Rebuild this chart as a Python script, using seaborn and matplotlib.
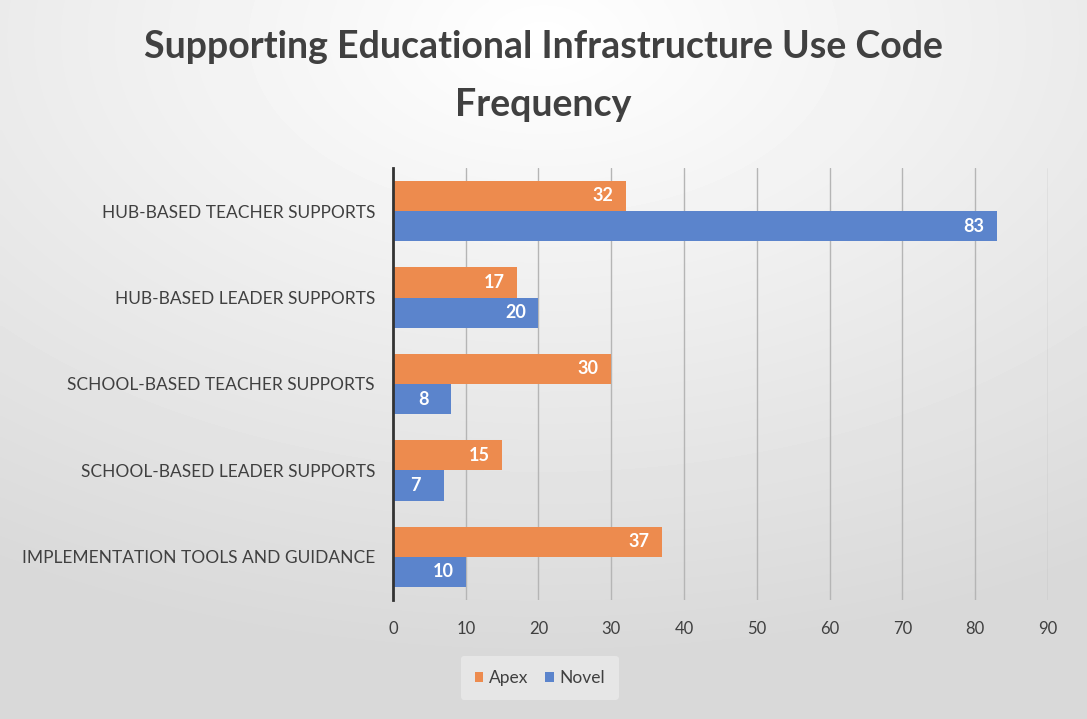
import numpy as np
import pandas as pd
import seaborn as sns
import matplotlib.pyplot as plt

# Code frequency per category
categories = [
    "HUB-BASED TEACHER SUPPORTS",
    "HUB-BASED LEADER SUPPORTS",
    "SCHOOL-BASED TEACHER SUPPORTS",
    "SCHOOL-BASED LEADER SUPPORTS",
    "IMPLEMENTATION TOOLS AND GUIDANCE",
]
apex = [32, 17, 30, 15, 37]
novel = [83, 20, 8, 7, 10]
series = ["Apex", "Novel"]
x_ticks = [0, 10, 20, 30, 40, 50, 60, 70, 80, 90]

df = pd.DataFrame({
    "category": categories * 2,
    "series": ["Apex"] * len(apex) + ["Novel"] * len(novel),
    "count": apex + novel,
})

sns.set_style("white")
plt.rcParams["font.family"] = ["Lato", "DejaVu Sans"]

fig = plt.figure(figsize=(10.87, 7.19), dpi=100)

# gray gradient background, lighter near the top
bg = fig.add_axes([0, 0, 1, 1], zorder=-10)
yy, xx = np.mgrid[0:1:200j, 0:1:300j]
dist = np.sqrt(((xx - 0.5) * 1.0) ** 2 + ((yy - 0.05) * 1.1) ** 2)
shade = 1.0 - 0.15 * np.clip(dist / 0.95, 0, 1)
bg.imshow(shade, cmap="gray", vmin=0, vmax=1, aspect="auto",
          extent=[0, 1, 1, 0], interpolation="bicubic")
bg.set_axis_off()
fig.patch.set_edgecolor("#9a9a9a")
fig.patch.set_linewidth(1.5)

ax = fig.add_axes([0.3615, 0.1655, 0.6025, 0.601])
ax.patch.set_alpha(0)
colors = {"Apex": "#ED8B4E", "Novel": "#5B84CC"}
sns.barplot(data=df, y="category", x="count", hue="series", hue_order=series,
            order=categories, palette=colors, orient="h", width=0.7,
            saturation=1, linewidth=0, ax=ax, legend=True, zorder=3)

for cont in ax.containers:
    ax.bar_label(cont, padding=-24, color="white", fontsize=13,
                 fontweight="bold")

ax.set_xlim(0, 90)
ax.set_xticks(x_ticks)
ax.set_xticklabels([str(t) for t in x_ticks], color="#404040", fontsize=12)
ax.tick_params(axis="x", length=0, pad=15)
ax.tick_params(axis="y", length=0, pad=13)
for lbl in ax.get_yticklabels():
    lbl.set_color("#404040")
    lbl.set_fontsize(12.5)
ax.set_xlabel("")
ax.set_ylabel("")
ax.grid(axis="x", color="#b5b5b5", linewidth=1, zorder=0)
for side in ["top", "right", "bottom"]:
    ax.spines[side].set_visible(False)
ax.spines["left"].set_color("#333333")
ax.spines["left"].set_linewidth(2)
ax.spines["left"].set_zorder(5)

leg = ax.legend(loc="center", bbox_to_anchor=(0.224, -0.18), ncol=2,
                frameon=True, fontsize=12.5, handlelength=0.5, handleheight=0.5,
                handletextpad=0.3, columnspacing=1.0, borderpad=0.8)
leg.get_frame().set_facecolor("#e8e8e8")
leg.get_frame().set_edgecolor("none")
leg.get_frame().set_alpha(0.9)
for t in leg.get_texts():
    t.set_color("#404040")

fig.suptitle("Supporting Educational Infrastructure Use Code\nFrequency",
             x=0.5, y=0.958, fontsize=27, fontweight="bold", color="#404040",
             linespacing=1.85)

fig.savefig("out.png", dpi=100)
